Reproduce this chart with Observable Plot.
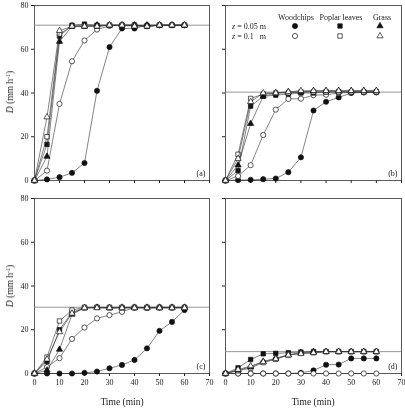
<!DOCTYPE html>
<html>
<head>
<meta charset="utf-8">
<script src="https://cdn.jsdelivr.net/npm/d3@7"></script>
<script src="https://cdn.jsdelivr.net/npm/@observablehq/plot@0.6"></script>
<style>
  html, body { margin: 0; padding: 0; background: #fff; }
  #fig { position: relative; width: 405px; height: 409px; font-family: "Liberation Serif", "Times New Roman", serif; color: #222; overflow: hidden; -webkit-font-smoothing: antialiased; }
  #fig > .panel { position: absolute; will-change: transform; }
  #fig svg { overflow: visible; }
  .ytitle, .xtitle, .lg { will-change: transform; }
  .ytitle { position: absolute; font-size: 9.5px; white-space: nowrap; transform: translate(-50%, -50%) rotate(-90deg); }
  .xtitle { position: absolute; font-size: 9.5px; white-space: nowrap; transform: translate(-50%, -50%); }
  .lg { position: absolute; font-size: 8px; white-space: nowrap; transform: translate(0, -50%); }
  .lg.c { transform: translate(-50%, -50%); }
  .sym { position: absolute; }
</style>
</head>
<body>
<div id="fig"></div>
<script>
// Sampling times (min)
const minutes = [0, 5, 10, 15, 20, 25, 30, 35, 40, 45, 50, 55, 60];
const xTicks = [0, 10, 20, 30, 40, 50, 60, 70];
const yTicks = [0, 20, 40, 60, 80];

// Materials and depths (legend)
const materials = ["Woodchips", "Poplar leaves", "Grass"];
const materialSymbols = ["circle", "square", "triangle"];
const depthLabels = ["<i>z</i> = 0.05 m", "<i>z</i> = 0.1&nbsp;&nbsp; m"];

// Panel (a): D (mm h-1)
const aWood05 = [0, 0.5, 1.5, 3.5, 8, 41, 61, 69.5, 69.5, 71, 71, 71, 71];
const aWood10 = [0, 4.5, 35, 54.5, 64, 69, 70.7, 71, 71, 70.5, 71, 71, 71];
const aPoplar05 = [0, 16.5, 66, 71, 71.5, 71, 71, 71, 71, 70.5, 71, 71, 71];
const aPoplar10 = [0, 20, 67, 70.5, 70.5, 70.5, 71, 71, 71, 70.5, 71, 71, 71];
const aGrass05 = [0, 11, 63.5, 70.5, 70.5, 71, 71, 71, 71, 71, 71, 71, 71];
const aGrass10 = [0, 29, 68.5, 70.5, 70.5, 70.5, 71, 71, 70.5, 70.5, 71, 71, 71];
const aRef = 71;

// Panel (b)
const bWood05 = [0, 0.2, 0.3, 0.6, 0.9, 3.8, 10.6, 32, 36, 38, 40, 40.3, 40.3];
const bWood10 = [0, 2, 7, 20.8, 32.4, 37.3, 37.4, 39, 39.2, 40, 40.3, 40.3, 40.3];
const bPoplar05 = [0, 4.5, 34, 38.5, 39, 39.5, 40, 40, 40.5, 40.5, 40.5, 40.5, 40.5];
const bPoplar10 = [0, 12, 37.5, 39.5, 40, 40, 40.5, 40.5, 40.5, 40.5, 40.5, 40.5, 40.5];
const bGrass05 = [0, 7, 26, 38.5, 40, 40.5, 40.5, 41, 41, 41, 41, 41, 41];
const bGrass10 = [0, 10, 36, 40, 40, 40.5, 41, 41, 41, 41, 41, 41, 41];
const bRef = 40.4;

// Panel (c)
const cWood05 = [0, 0, 0, 0, 0.3, 0.9, 2.4, 3.9, 6.2, 11.5, 19.5, 23.6, 29];
const cWood10 = [0, 3, 7, 15.8, 21, 25.2, 26.7, 28.2, 30.2, 30, 30.2, 30.2, 30.2];
const cPoplar05 = [0, 5.5, 20, 28, 30, 30.2, 30, 30, 30, 30, 30, 30, 30];
const cPoplar10 = [0, 7.5, 24, 29, 30.3, 30.3, 30.3, 30.3, 30.3, 30.3, 30.3, 30.3, 30.3];
const cGrass05 = [0, 1.5, 11, 27, 30, 30.2, 30, 30.2, 30.2, 30.2, 30.2, 30.2, 30.2];
const cGrass10 = [0, 6.5, 19, 27.5, 30, 30, 30, 30, 30, 30, 30, 30, 30];
const cRef = 30.3;

// Panel (d)
const dWood05 = [0, 0, 0, 0, 0, 0, 0.3, 1.4, 4, 4.1, 6.9, 6.9, 6.9];
const dWood10 = [0, 0, 0, 0, 0, 0, 0, 0, 0, 0, 0, 0, 0];
const dPoplar05 = [0, 2.6, 6.4, 9, 9.2, 9.5, 9.8, 10, 10, 10, 10, 10, 10];
const dPoplar10 = [0, 1.2, 2.5, 5, 6.5, 8.5, 9.2, 9.5, 10, 10, 10, 10, 10];
const dGrass05 = [0, 1.5, 3, 5.5, 7, 8.5, 9.5, 10, 10, 10, 10, 10, 10];
const dGrass10 = [0, 1.8, 3.4, 5.3, 6.7, 8.4, 9.1, 9.5, 10, 10, 10, 10, 10];
const dRef = 10;

const fig = document.getElementById("fig");

// Marker radius per symbol
function radius(symbol) {
  return symbol === "triangle" ? 2.3 : symbol === "square" ? 2.5 : 2.6;
}

// One series per material and depth: filled markers for z = 0.05 m, open for z = 0.1 m
function seriesMarks(values05, values10, materialIndex) {
  const symbol = materialSymbols[materialIndex];
  const r = radius(symbol);
  const marks = [];
  [[values05, "#111"], [values10, "#fff"]].forEach(([vals, fill]) => {
    const rows = minutes.map((t, i) => ({t, v: vals[i]}));
    marks.push(Plot.line(rows, {x: "t", y: "v", stroke: "#333", strokeWidth: 0.6}));
    marks.push(Plot.dot(rows, {x: "t", y: "v", symbol, r, fill, stroke: "#111", strokeWidth: 0.7}));
  });
  return marks;
}

function panel({series, ref, tag, left, top, width, height, marginLeft, marginRight, marginTop, marginBottom, xLabels, yLabels}) {
  const chart = Plot.plot({
    width, height, marginLeft, marginRight, marginTop, marginBottom,
    style: {fontFamily: "'Liberation Serif', 'Times New Roman', serif", fontSize: "8px", color: "#222", background: "transparent", overflow: "visible"},
    x: {domain: [0, 70], ticks: xTicks, tickSize: 3, tickPadding: 3, label: null,
        tickFormat: xLabels ? (d) => String(d) : () => ""},
    y: {domain: [0, 80], ticks: yTicks, tickSize: 3, tickPadding: 3, label: null,
        tickFormat: yLabels ? (d) => String(d) : () => ""},
    marks: [
      Plot.frame({stroke: "#333", strokeWidth: 0.8}),
      Plot.ruleY([ref], {stroke: "#8a8a8a", strokeWidth: 0.9}),
      ...seriesMarks(series[0], series[1], 0),
      ...seriesMarks(series[2], series[3], 1),
      ...seriesMarks(series[4], series[5], 2),
      Plot.text([tag], {frameAnchor: "bottom-right", dx: -4, dy: -5, textAnchor: "end", lineAnchor: "bottom", fontSize: 8})
    ]
  });
  chart.classList.add("panel");
  chart.style.left = left + "px";
  chart.style.top = top + "px";
  fig.appendChild(chart);
}

const topRow = {top: 0, height: 195, marginTop: 5, marginBottom: 15};
const bottomRow = {top: 193, height: 216, marginTop: 5, marginBottom: 36};
const leftCol = {left: 0, width: 212, marginLeft: 34, marginRight: 3};
const rightCol = {left: 200, width: 205, marginLeft: 25, marginRight: 4};

panel({series: [aWood05, aWood10, aPoplar05, aPoplar10, aGrass05, aGrass10], ref: aRef, tag: "(a)", ...topRow, ...leftCol, xLabels: false, yLabels: true});
panel({series: [bWood05, bWood10, bPoplar05, bPoplar10, bGrass05, bGrass10], ref: bRef, tag: "(b)", ...topRow, ...rightCol, xLabels: false, yLabels: false});
panel({series: [cWood05, cWood10, cPoplar05, cPoplar10, cGrass05, cGrass10], ref: cRef, tag: "(c)", ...bottomRow, ...leftCol, xLabels: true, yLabels: true});
panel({series: [dWood05, dWood10, dPoplar05, dPoplar10, dGrass05, dGrass10], ref: dRef, tag: "(d)", ...bottomRow, ...rightCol, xLabels: true, yLabels: false});

// Axis titles
function addText(cls, html, x, y) {
  const el = document.createElement("div");
  el.className = cls;
  el.innerHTML = html;
  el.style.left = x + "px";
  el.style.top = y + "px";
  fig.appendChild(el);
}
const yTitle = "<i>D</i> (mm h<sup style=\"font-size:6px;vertical-align:3px\">-1</sup>)";
addText("ytitle", yTitle, 10, 92);
addText("ytitle", yTitle, 10, 286);
addText("xtitle", "Time (min)", 121.5, 402);
addText("xtitle", "Time (min)", 313, 402);

// Legend in panel (b)
const headerX = [296, 341, 382];
const symbolX = [295, 340, 380];
const rowY = [26, 36];
materials.forEach((m, i) => addText("lg c", m, headerX[i], 17));
depthLabels.forEach((d, j) => addText("lg", d, 232, rowY[j]));
materialSymbols.forEach((s, i) => {
  rowY.forEach((y, j) => {
    const r = radius(s);
    const size = 12;
    const svg = d3.create("svg").attr("class", "sym").attr("width", size).attr("height", size)
      .style("left", (symbolX[i] - size / 2) + "px").style("top", (y - size / 2) + "px");
    const sym = {circle: d3.symbolCircle, square: d3.symbolSquare, triangle: d3.symbolTriangle}[s];
    svg.append("path")
      .attr("transform", `translate(${size / 2},${size / 2})`)
      .attr("d", d3.symbol(sym, Math.PI * r * r)())
      .attr("fill", j === 0 ? "#111" : "#fff")
      .attr("stroke", "#111").attr("stroke-width", 0.7);
    fig.appendChild(svg.node());
  });
});
</script>
</body>
</html>
